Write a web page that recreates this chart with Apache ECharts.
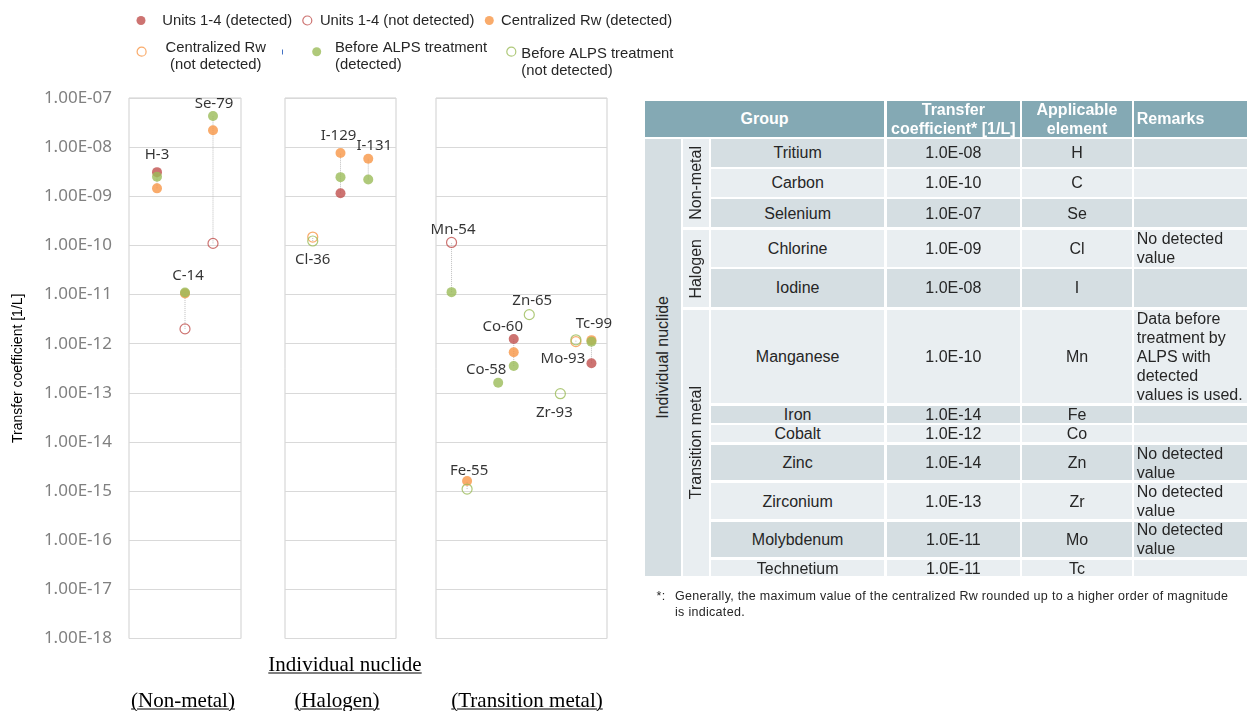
<!DOCTYPE html>
<html><head><meta charset="utf-8">
<script src="https://cdn.jsdelivr.net/npm/echarts@6/dist/echarts.min.js"></script>
<style>
html,body{margin:0;padding:0;background:#fff;}
#wrap{position:relative;width:1254px;height:711px;overflow:hidden;background:#fff;}
#chart{position:absolute;left:0;top:0;width:1254px;height:711px;}
.cell{position:absolute;box-sizing:border-box;display:flex;align-items:center;justify-content:center;text-align:center;font-family:'Liberation Sans',Arial,sans-serif;font-size:16px;color:#262626;white-space:pre-line;line-height:19px;overflow:visible;}
.hdr{color:#fff;font-weight:bold;background:#84a9b4;}
.rem{justify-content:flex-start;text-align:left;padding-left:2.5px;}
.vert{writing-mode:vertical-rl;transform:rotate(180deg);}
.ul{position:absolute;font-family:'Liberation Serif','Times New Roman',serif;font-size:21px;color:#000;text-decoration:underline;text-decoration-thickness:1px;text-underline-offset:2px;white-space:nowrap;transform:translate(-50%,-50%);}
.fn{position:absolute;font-family:'Liberation Sans',Arial,sans-serif;font-size:12.5px;letter-spacing:0.3px;color:#262626;white-space:pre;line-height:16.7px;}
</style>
</head><body>
<div id="wrap"><div id="chart"></div><div id="overlay"></div></div>
<script>
// ---------------- data ----------------
const nuclides = ['H-3','C-14','Se-79','Cl-36','I-129','I-131','Mn-54','Fe-55','Co-58','Co-60','Zn-65','Zr-93','Mo-93','Tc-99'];
const unitsDetected       = [3.1e-9, null, null, null, 1.15e-9, null, null, null, null, 1.25e-12, null, null, null, 4.0e-13];
const unitsNotDetected    = [null, 2.0e-12, 1.1e-10, null, null, null, 1.15e-10, null, null, null, null, null, null, null];
const rwDetected          = [1.45e-9, 1.05e-11, 2.2e-8, null, 7.6e-9, 5.8e-9, null, 1.6e-15, null, 6.7e-13, null, null, null, 1.18e-12];
const rwNotDetected       = [null, null, null, 1.48e-10, null, null, null, null, null, null, null, null, 1.1e-12, null];
const alpsDetected        = [2.5e-9, 1.1e-11, 4.3e-8, null, 2.45e-9, 2.2e-9, 1.12e-11, null, 1.6e-13, 3.5e-13, null, null, null, 1.1e-12];
const alpsNotDetected     = [null, null, null, 1.23e-10, null, null, null, 1.1e-15, null, null, 3.9e-12, 9.6e-14, 1.2e-12, null];

const seriesNames = ['Units 1-4 (detected)','Units 1-4 (not detected)','Centralized Rw (detected)','Centralized Rw (not detected)','Before ALPS treatment (detected)','Before ALPS treatment (not detected)'];
const legendLines = [['Units 1-4 (detected)'],['Units 1-4 (not detected)'],['Centralized Rw (detected)'],['Centralized Rw','(not detected)'],['Before ALPS treatment','(detected)'],['Before ALPS treatment','(not detected)']];

// category slots of the three panels (gap-* are empty slots)
const nonMetalSlots   = ['gap-a','H-3','C-14','Se-79','gap-b'];
const halogenSlots    = ['gap-a','Cl-36','I-129','I-131','gap-b'];
const transitionSlots = ['gap-a','Mn-54','Fe-55','gap-b','Co-58','Co-60','Zn-65','gap-c','Zr-93','Mo-93','Tc-99','gap-d'];

const yTickExponents = [-18,-17,-16,-15,-14,-13,-12,-11,-10,-9,-8,-7];

// table content
const tableHeaders = ['Group','Transfer\ncoefficient* [1/L]','Applicable\nelement','Remarks'];
const tableTopGroup = 'Individual  nuclide';
const tableSubgroups = ['Non-metal','Halogen','Transition metal'];
const tableSubgroupSpans = [3,2,7];
const tableElements = ['Tritium','Carbon','Selenium','Chlorine','Iodine','Manganese','Iron','Cobalt','Zinc','Zirconium','Molybdenum','Technetium'];
const tableCoefficients = ['1.0E-08','1.0E-10','1.0E-07','1.0E-09','1.0E-08','1.0E-10','1.0E-14','1.0E-12','1.0E-14','1.0E-13','1.0E-11','1.0E-11'];
const tableSymbols = ['H','C','Se','Cl','I','Mn','Fe','Co','Zn','Zr','Mo','Tc'];
const tableRemarks = ['','','','No detected\nvalue','','Data before\ntreatment by\nALPS with\ndetected\nvalues is used.','','','No detected\nvalue','No detected\nvalue','No detected\nvalue',''];
const footnoteMark = '*:';
const footnoteText = 'Generally, the maximum value of the centralized Rw rounded up to a higher order of magnitude\nis indicated.';
const axisCaption = 'Individual nuclide';
const panelCaptions = ['(Non-metal)','(Halogen)','(Transition metal)'];

// ---------------- layout / style ----------------
const panels = [nonMetalSlots, halogenSlots, transitionSlots];
const gridBoxes = [{left:129,width:112},{left:285,width:111},{left:436,width:171}];
const gridTop = 98, gridHeight = 540.5;
const colors = ['#c0504d','#c0504d','#f79646','#f79646','#9bbb59','#9bbb59'];
const filled = [true,false,true,false,true,false];
const labelOffsets = [[0,-17],[3,-17],[1,-12],[0,23],[-2,-17],[6,-13],[1.5,-13],[2,-10],[-12,-13],[-11,-12],[3,-14],[-6,19],[-13,19],[2.5,-16]];
const legendLayout = [
  {left:136.5, top:12.0, spacer:0,    padLeft:11.8, align:'left'},
  {left:302.2, top:12.0, spacer:0,    padLeft:3.1,  align:'left'},
  {left:484.8, top:12.0, spacer:0,    padLeft:2.2,  align:'left'},
  {left:136.5, top:30.0, spacer:9.4,  padLeft:14.5, align:'center'},
  {left:312.2, top:30.0, spacer:9.4,  padLeft:8.8,  align:'left'},
  {left:506.2, top:24.4, spacer:20.6, padLeft:0.5,  align:'left'}
];
const legendFont = {fontFamily:'Liberation Sans', fontSize:14.8, color:'#262626', lineHeight:17};

const seriesValues = [unitsDetected, unitsNotDetected, rwDetected, rwNotDetected, alpsDetected, alpsNotDetected];
function panelOf(n){ return panels.findIndex(p => p.includes(n)); }
function fmtE(v){
  const e = Math.round(Math.log10(v));
  const m = v / Math.pow(10, e);
  return m.toFixed(2) + 'E' + (e < 0 ? '-' : '+') + String(Math.abs(e)).padStart(2,'0');
}

const grid = gridBoxes.map(g => ({left:g.left, width:g.width, top:gridTop, height:gridHeight, show:true, borderColor:'#cfcfcf', borderWidth:1, backgroundColor:'transparent'}));
const xAxis = panels.map((slots,p) => ({type:'category', gridIndex:p, data:slots, boundaryGap:false,
  axisLine:{show:false}, axisTick:{show:false}, axisLabel:{show:false}, splitLine:{show:false}}));
const yAxis = panels.map((slots,p) => ({type:'log', logBase:10, gridIndex:p,
  min:Math.pow(10, yTickExponents[0]), max:Math.pow(10, yTickExponents[yTickExponents.length-1]), interval:1,
  axisLine:{show:false}, axisTick:{show:false},
  splitLine:{show:true, lineStyle:{color:'#d9d9d9', width:1.2}},
  axisLabel:{show:p===0, formatter:fmtE, color:'#808080', fontSize:17, fontFamily:'Noto Sans', margin:17},
  name: p===0 ? 'Transfer coefficient [1/L]' : '', nameLocation:'middle', nameGap:104,
  nameTextStyle:{fontSize:14, color:'#000', fontFamily:'Liberation Sans'}}));

const series = [];
// dotted connectors between values of the same nuclide
nuclides.forEach((n,i) => {
  const vals = seriesValues.map(a => a[i]).filter(v => v != null);
  if (vals.length < 2) return;
  const p = panelOf(n), x = panels[p].indexOf(n);
  series.push({type:'line', xAxisIndex:p, yAxisIndex:p, data:[[x, Math.min(...vals)],[x, Math.max(...vals)]],
    symbol:'none', silent:true, z:1, animation:false, lineStyle:{color:'#bdbdbd', width:1, type:'dotted'}});
});
// markers
seriesNames.forEach((name,s) => {
  panels.forEach((slots,p) => {
    const data = [];
    nuclides.forEach((n,i) => { const v = seriesValues[s][i]; if (v != null && slots.includes(n)) data.push([slots.indexOf(n), v]); });
    series.push({type:'scatter', name, xAxisIndex:p, yAxisIndex:p, data, symbol:'circle', symbolSize:10, z:3, animation:false,
      itemStyle: filled[s] ? {color:colors[s]} : {color:'transparent', borderColor:colors[s], borderWidth:1.2}});
  });
});
// nuclide labels anchored on the highest value of each nuclide
panels.forEach((slots,p) => {
  const data = [];
  nuclides.forEach((n,i) => {
    if (!slots.includes(n)) return;
    const vals = seriesValues.map(a => a[i]).filter(v => v != null);
    data.push({name:n, value:[slots.indexOf(n), Math.max(...vals)], label:{offset:labelOffsets[i]}});
  });
  series.push({type:'scatter', name:'labels', xAxisIndex:p, yAxisIndex:p, data, symbolSize:1, z:5, silent:true, animation:false,
    itemStyle:{color:'transparent'},
    label:{show:true, position:'inside', formatter:'{b}', color:'#000', fontSize:15, fontFamily:'Noto Sans'}});
});

const legend = seriesNames.map((name,k) => {
  const L = legendLayout[k];
  const lines = legendLines[k].map(t => '{c|' + t + '}');
  if (L.spacer > 0) lines.unshift('{g| }');
  return {
    data:[name], left:L.left, top:L.top, padding:0, orient:'horizontal',
    icon:'circle', itemWidth:9, itemHeight:9, selectedMode:false,
    itemStyle:{borderWidth: filled[k] ? 0 : 1.2},
    formatter: () => lines.join('\n'),
    textStyle:Object.assign({}, legendFont, {padding:[0,0,0,L.padLeft],
      rich:{c:Object.assign({}, legendFont, {align:L.align}), g:{height:L.spacer, lineHeight:L.spacer, fontSize:1}}})
  };
});

const chart = echarts.init(document.getElementById('chart'), null, {renderer:'canvas'});
chart.setOption({
  animation:false,
  grid, xAxis, yAxis, series, legend,
  graphic:[{type:'line', shape:{x1:282.5, y1:49.5, x2:282.5, y2:54.5}, style:{stroke:'#4472c4', lineWidth:1}}]
});

// ---------------- table and captions (HTML) ----------------
const ov = document.getElementById('overlay');
function box(x1,y1,x2,y2,text,cls,bg){
  const d = document.createElement('div');
  d.className = 'cell ' + (cls||'');
  d.style.left = x1+'px'; d.style.top = y1+'px'; d.style.width = (x2-x1)+'px'; d.style.height = (y2-y1)+'px';
  if (bg) d.style.background = bg;
  if (cls && cls.indexOf('vert-wrap') >= 0) {
    const s = document.createElement('span'); s.className = 'vert'; s.textContent = text; d.appendChild(s);
  } else d.textContent = text;
  ov.appendChild(d);
  return d;
}
const cols = [[644.7,680.7],[682.7,709],[711,884.3],[886.7,1020],[1022.3,1131.7],[1134.3,1246.7]];
const hdrY = [101,136.7];
const rowY = [[139,166.7],[169,196.7],[199.3,227.3],[230,266.7],[269.3,306.7],[310,403.3],[406,422.7],[425,442.3],[445,480],[483.3,519.3],[521.7,557.3],[560,576]];
const dark = '#d5dee2', light = '#e9eef1';
box(cols[0][0],hdrY[0],cols[2][1],hdrY[1],tableHeaders[0],'hdr');
box(cols[3][0],hdrY[0],cols[3][1],hdrY[1],tableHeaders[1],'hdr');
box(cols[4][0],hdrY[0],cols[4][1],hdrY[1],tableHeaders[2],'hdr');
box(cols[5][0],hdrY[0],cols[5][1],hdrY[1],tableHeaders[3],'hdr rem');
box(cols[0][0],rowY[0][0],cols[0][1],rowY[rowY.length-1][1],tableTopGroup,'vert-wrap',dark);
let r0 = 0;
tableSubgroups.forEach((g,k) => {
  const r1 = r0 + tableSubgroupSpans[k] - 1;
  box(cols[1][0],rowY[r0][0],cols[1][1],rowY[r1][1],g,'vert-wrap',light);
  r0 = r1 + 1;
});
tableElements.forEach((el,r) => {
  const bg = r % 2 === 0 ? dark : light;
  box(cols[2][0],rowY[r][0],cols[2][1],rowY[r][1],el,'',bg);
  box(cols[3][0],rowY[r][0],cols[3][1],rowY[r][1],tableCoefficients[r],'',bg);
  box(cols[4][0],rowY[r][0],cols[4][1],rowY[r][1],tableSymbols[r],'',bg);
  box(cols[5][0],rowY[r][0],cols[5][1],rowY[r][1],tableRemarks[r],'rem',bg);
});
const fm = document.createElement('div'); fm.className='fn'; fm.style.left='656.5px'; fm.style.top='587.5px'; fm.textContent=footnoteMark; ov.appendChild(fm);
const ft = document.createElement('div'); ft.className='fn'; ft.style.left='675px'; ft.style.top='587.5px'; ft.textContent=footnoteText; ov.appendChild(ft);

function caption(text,cx,cy){ const d=document.createElement('div'); d.className='ul'; d.style.left=cx+'px'; d.style.top=cy+'px'; d.textContent=text; ov.appendChild(d); }
caption(axisCaption,345,664);
const capCenters = [183,337,527];
panelCaptions.forEach((c,k) => caption(c,capCenters[k],700));
</script>
</body></html>
